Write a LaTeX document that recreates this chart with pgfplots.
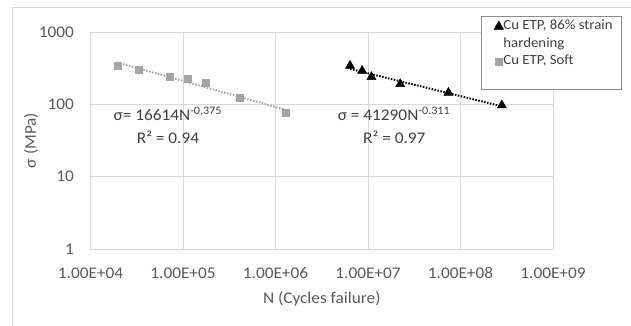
\documentclass[border=0pt]{standalone}
\usepackage{fontspec}
\setmainfont{Carlito}[FakeStretch=1.06]
\usepackage{pgfplots}
\pgfplotsset{compat=1.18}
\definecolor{gridc}{HTML}{D9D9D9}
\definecolor{softc}{HTML}{A5A5A5}
\definecolor{txt}{HTML}{595959}
\definecolor{dtxt}{HTML}{404040}
\definecolor{legc}{HTML}{8C8C8C}
\begin{document}
\begin{tikzpicture}
\useasboundingbox (-90.5bp,-77bp) rectangle (540.5bp,249bp);
\draw[gridc, line width=0.75bp] (-78.5bp,-80bp) -- (-78.5bp,242bp) -- (545bp,242bp);
\begin{axis}[
  width=462.5bp, height=217bp, scale only axis,
  xmode=log, ymode=log,
  xmin=1e4, xmax=1e9, ymin=1, ymax=1000,
  xtick={1e4,1e5,1e6,1e7,1e8,1e9},
  xticklabels={1.00E+04,1.00E+05,1.00E+06,1.00E+07,1.00E+08,1.00E+09},
  ytick={1,10,100,1000}, yticklabels={1,10,100,1000},
  tick style={draw=none},
  grid=major, major grid style={gridc, line width=0.75bp},
  minor grid style={draw=none},
  axis line style={gridc, line width=0.75bp},
  ticklabel style={font=\fontsize{16.3bp}{19bp}\selectfont, text=txt},
  xticklabel style={inner sep=0pt, anchor=north, yshift=-18.5bp},
  yticklabel style={inner sep=0pt, anchor=east, xshift=-16.5bp},
  label style={font=\fontsize{16.3bp}{19bp}\selectfont, text=txt},
  xlabel={N (Cycles failure)}, ylabel={σ (MPa)},
  xlabel style={at={(axis description cs:0.5,-0.2304)}, anchor=center},
  ylabel style={at={(axis description cs:-0.1286,0.5)}, anchor=center},
  legend cell align=left,
  legend style={at={(1.1492,1.0737)}, anchor=north east, draw=legc, line width=0.75bp,
    fill=white, inner xsep=9bp, inner ysep=1.5bp,
    font=\fontsize{14bp}{17bp}\selectfont, text=dtxt,
    nodes={inner sep=0pt, text height=12bp, text depth=5.5bp}},
]
\addplot[only marks, mark=triangle*, mark size=5.3bp, black] coordinates {
 (6.4e6,342) (8.65e6,292) (1.09e7,239) (2.23e7,191) (7.4e7,145) (2.8e8,97)};
\addlegendentry{Cu ETP, 86\% strain}
\addlegendimage{empty legend}
\addlegendentry{hardening}
\addplot[only marks, mark=square*, mark size=3.5bp, softc] coordinates {
 (1.95e4,346) (3.29e4,298) (7.1e4,244) (1.12e5,224) (1.77e5,197) (4.07e5,125) (1.28e6,76)};
\addlegendentry{Cu ETP, Soft}
\addlegendimage{empty legend}
\addlegendentry{}
\addplot[forget plot, softc, line width=2bp, dash pattern=on 1.5bp off 1.5bp] coordinates {
 (1.95e4,379) (1.28e6,84)};
\addplot[forget plot, black, line width=2bp, dash pattern=on 1.5bp off 1.5bp] coordinates {
 (6.4e6,309) (2.8e8,93.8)};
\end{axis}
\begin{scope}[every node/.style={font=\fontsize{16.3bp}{19bp}\selectfont, text=dtxt, anchor=base, inner sep=0pt}]
\node at (77.3bp,128.3bp) {σ= 16614N\textsuperscript{-0,375}};
\node at (77.5bp,105.7bp) {R² = 0.94};
\node at (303.5bp,128.3bp) {σ = 41290N\textsuperscript{-0.311}};
\node at (303.8bp,105.7bp) {R² = 0.97};
\end{scope}
\end{tikzpicture}
\end{document}
